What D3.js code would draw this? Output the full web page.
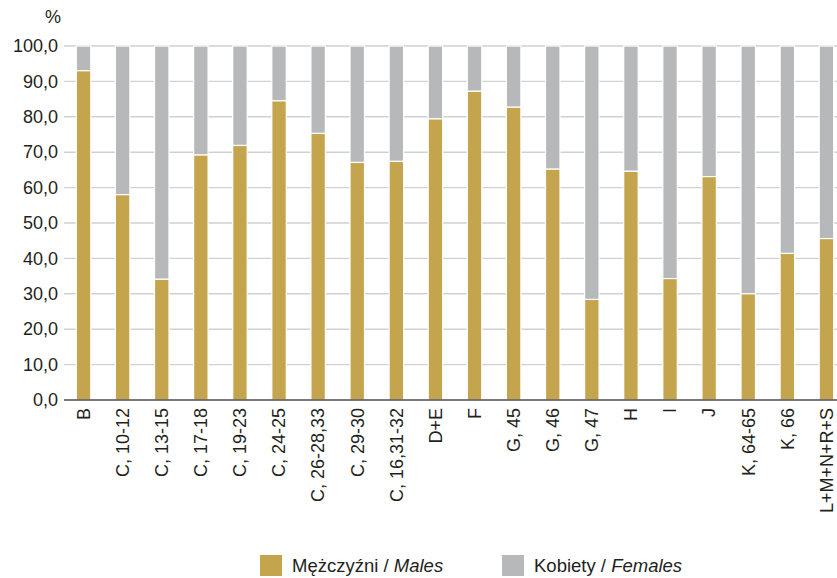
<!DOCTYPE html>
<html lang="pl">
<head>
  <meta charset="UTF-8">
  <title>Mężczyźni i kobiety według sekcji</title>
  <script src="https://d3js.org/d3.v7.min.js"></script>
  <style>
    body { margin: 0; background: #fff; }
    svg { display: block; font-family: "Liberation Sans", Arial, sans-serif; }
  </style>
</head>
<body>
  <svg width="837" height="578"></svg>
  <script>
    const categories = ["B", "C, 10-12", "C, 13-15", "C, 17-18", "C, 19-23", "C, 24-25",
      "C, 26-28,33", "C, 29-30", "C, 16,31-32", "D+E", "F", "G, 45", "G, 46", "G, 47",
      "H", "I", "J", "K, 64-65", "K, 66", "L+M+N+R+S"];
    const males = [93.0, 58.0, 34.1, 69.2, 71.9, 84.5, 75.3, 67.1, 67.4, 79.4,
      87.2, 82.7, 65.2, 28.4, 64.6, 34.3, 63.1, 30.0, 41.4, 45.6];
    const yTicks = [0, 10, 20, 30, 40, 50, 60, 70, 80, 90, 100];

    const gold = "#c4a44c", grey = "#b7b8ba", ink = "#231f20";

    const svg = d3.select("svg");
    const plotLeft = 64, plotRight = 846, plotTop = 46, plotBottom = 400;

    const x = d3.scaleBand()
      .domain(categories)
      .range([plotLeft, plotRight])
      .paddingInner(0.63)
      .paddingOuter(0.315);

    const y = d3.scaleLinear().domain([0, 100]).range([plotBottom, plotTop]);

    const fmt = v => d3.format(".1f")(v).replace(".", ",");

    // grid
    svg.append("g")
      .selectAll("line")
      .data(yTicks.slice(1))
      .join("line")
      .attr("x1", plotLeft).attr("x2", 837)
      .attr("y1", d => y(d)).attr("y2", d => y(d))
      .attr("stroke", "#d0d1d3")
      .attr("stroke-width", 1.4);

    // y axis labels
    const yAxis = svg.append("g")
      .attr("transform", `translate(${plotLeft},0)`)
      .call(d3.axisLeft(y).tickValues(yTicks).tickFormat(fmt).tickSize(0).tickPadding(6));
    yAxis.select(".domain").remove();
    yAxis.selectAll("text")
      .attr("fill", ink)
      .style("font-size", "18px")
      .style("font-family", "'Liberation Sans', Arial, sans-serif");

    svg.append("text")
      .attr("x", 53).attr("y", 23)
      .attr("text-anchor", "middle")
      .attr("fill", ink)
      .style("font-size", "18px")
      .text("%");

    const rows = categories.map((c, i) => ({ cat: c, m: males[i] }));

    // bars
    const bars = svg.append("g");
    bars.selectAll("rect.f")
      .data(rows)
      .join("rect")
      .attr("class", "f")
      .attr("x", d => x(d.cat))
      .attr("width", x.bandwidth())
      .attr("y", y(100))
      .attr("height", d => y(d.m) - y(100))
      .attr("fill", grey)
      .attr("stroke", "#fff")
      .attr("stroke-width", 1.2);

    bars.selectAll("rect.m")
      .data(rows)
      .join("rect")
      .attr("class", "m")
      .attr("x", d => x(d.cat))
      .attr("width", x.bandwidth())
      .attr("y", d => y(d.m))
      .attr("height", d => y(0) - y(d.m))
      .attr("fill", gold)
      .attr("stroke", "#fff")
      .attr("stroke-width", 1.2);

    // x axis
    const xAxis = svg.append("g")
      .attr("transform", `translate(0,${plotBottom})`)
      .call(d3.axisBottom(x).tickSize(0).tickPadding(8));
    xAxis.select(".domain")
      .attr("d", `M${plotLeft},0H837`)
      .attr("stroke", "#4d4d4f")
      .attr("stroke-width", 1.3);
    xAxis.selectAll("text")
      .attr("fill", ink)
      .style("font-size", "18px")
      .style("font-family", "'Liberation Sans', Arial, sans-serif")
      .attr("text-anchor", "end")
      .attr("transform", "rotate(-90)")
      .attr("x", -8)
      .attr("y", 0)
      .attr("dy", "0.35em");

    // legend
    const legend = [
      { pl: "Mężczyźni / ", en: "Males", color: gold, x: 260 },
      { pl: "Kobiety / ", en: "Females", color: grey, x: 502 }
    ];
    const lg = svg.append("g").selectAll("g").data(legend).join("g")
      .attr("transform", d => `translate(${d.x},555)`);
    lg.append("rect")
      .attr("width", 22).attr("height", 21)
      .attr("fill", d => d.color);
    const lt = lg.append("text")
      .attr("x", 32).attr("y", 17)
      .attr("fill", ink)
      .style("font-size", "18.5px");
    lt.append("tspan").text(d => d.pl);
    lt.append("tspan").style("font-style", "italic").text(d => d.en);
  </script>
</body>
</html>
